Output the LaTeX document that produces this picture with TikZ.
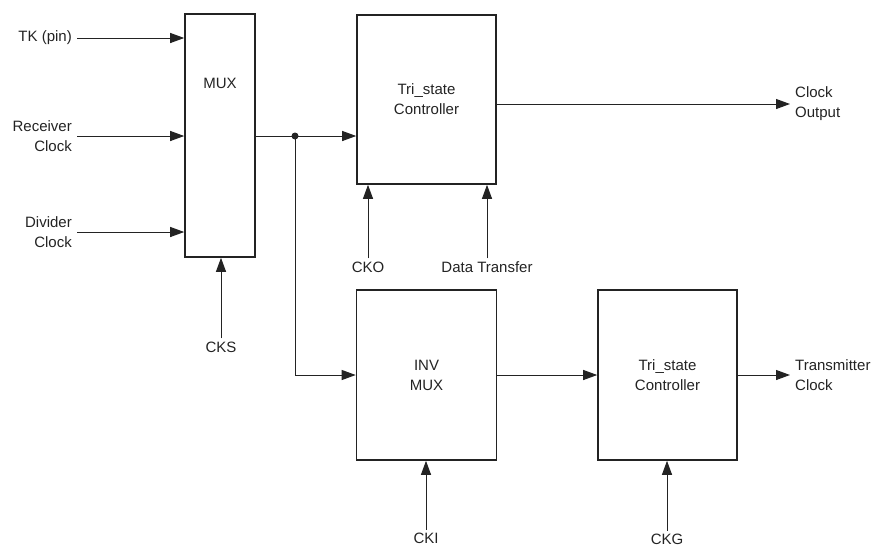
\documentclass[tikz,border=0pt]{standalone}
\usepackage{fontspec}
\setmainfont{Liberation Sans}
\usetikzlibrary{positioning,arrows.meta}
\definecolor{InkGray}{RGB}{35,35,35}

\begin{document}
\begin{tikzpicture}[x=1pt, y=-1pt, font=\fontsize{15}{20}\selectfont,
    every node/.style={align=center, text=InkGray},
    blk/.style={draw=InkGray, line width=1.6pt, inner sep=0pt},
    sig/.style={draw=InkGray, line width=1pt, -{Triangle[length=14pt,width=10pt]}},
    wire/.style={draw=InkGray, line width=1pt}]
  \useasboundingbox (0,0) rectangle (877,547);
  % blocks
  \node[blk, minimum width=70pt, minimum height=243pt] (mux) at (220,135.5) {};
  \node (muxtxt) at (220,83) {MUX};
  \node[blk, minimum width=139pt, minimum height=169pt] (tri1) at (426.5,99.5) {Tri\_state\\Controller};
  \node[blk, minimum width=140pt, minimum height=170pt] (inv) at (426.5,375) {INV\\MUX};
  \node[blk, minimum width=139pt, minimum height=170pt] (tri2) at (667.5,375) {Tri\_state\\Controller};
  % inputs and outputs
  \node[anchor=east, align=right, inner sep=5pt] (tk) at (77,38) {TK (pin)};
  \node[anchor=east, align=right, inner sep=5pt] (rxclk) at (77,136) {Receiver\\Clock};
  \node[anchor=east, align=right, inner sep=5pt] (divclk) at (77,232) {Divider\\Clock};
  \node[inner sep=3pt] (cks) at (221,347) {CKS};
  \node[inner sep=3pt] (cko) at (368,267) {CKO};
  \node[inner sep=3pt] (dtx) at (487,267) {Data Transfer};
  \node[inner sep=3pt] (cki) at (426,538) {CKI};
  \node[inner sep=3pt] (ckg) at (667,539) {CKG};
  \node[anchor=west, align=left, inner sep=5pt] (clkout) at (790,104) {Clock\\Output};
  \node[anchor=west, align=left, inner sep=5pt] (txclk) at (790,375) {Transmitter\\Clock};
  \coordinate (jn) at (295,136);
  % connectors
  \draw[sig] (tk.east) -- (mux.west |- tk.east);
  \draw[sig] (rxclk.east) -- (mux.west |- rxclk.east);
  \draw[sig] (divclk.east) -- (mux.west |- divclk.east);
  \draw[sig] (cks.north) -- (mux.south -| cks.north);
  \draw[wire] (mux.east |- jn) -- (jn);
  \draw[sig] (jn) -- (tri1.west |- jn);
  \draw[sig] (jn) |- (inv.west);
  \fill[InkGray] (jn) circle (3.5pt);
  \draw[sig] (cko.north) -- (tri1.south -| cko.north);
  \draw[sig] (dtx.north) -- (tri1.south -| dtx.north);
  \draw[sig] (tri1.east |- clkout.west) -- (clkout.west);
  \draw[sig] (cki.north) -- (inv.south -| cki.north);
  \draw[sig] (inv.east) -- (tri2.west);
  \draw[sig] (ckg.north) -- (tri2.south -| ckg.north);
  \draw[sig] (tri2.east) -- (txclk.west);
\end{tikzpicture}
\end{document}
